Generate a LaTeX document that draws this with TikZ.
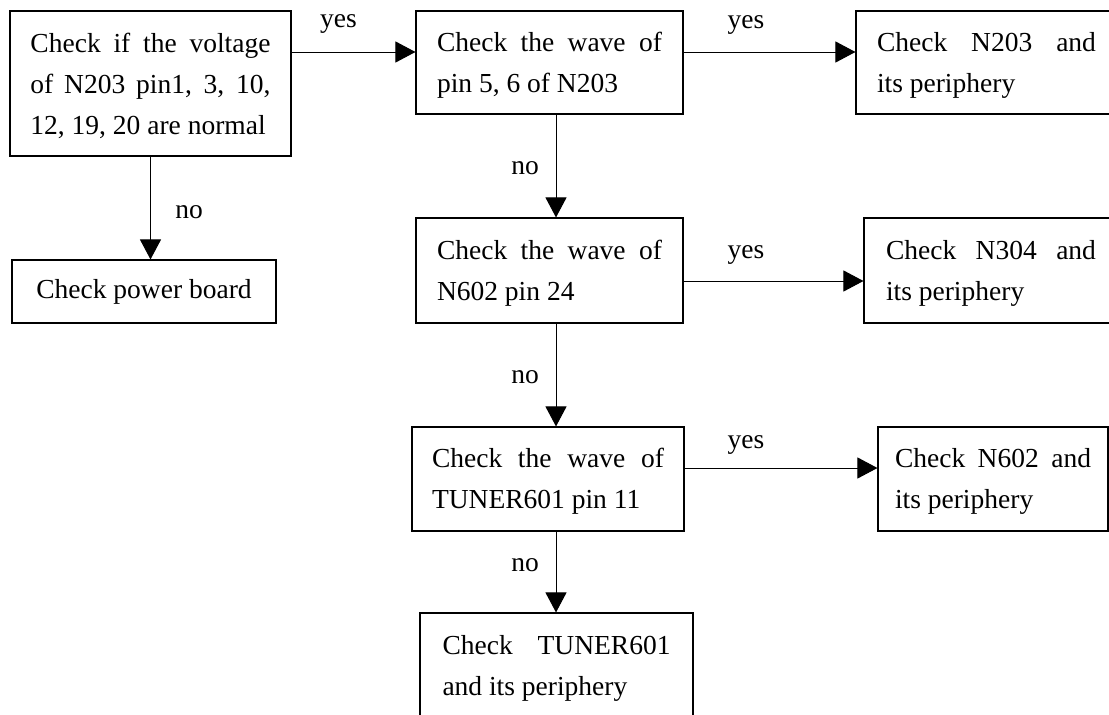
\documentclass[tikz,border=0pt]{standalone}
\usepackage{fontspec}
\setmainfont{Liberation Serif}
\usetikzlibrary{arrows.meta}
\newcommand{\tfix}{\rule{0pt}{24pt}}
\begin{document}
\begin{tikzpicture}[x=1pt,y=-1pt,
  box/.style={draw,line width=1.1pt,inner sep=0pt,align=justify,
    font={\parindent=0pt\fontsize{27.5}{41}\selectfont}},
  lbl/.style={anchor=base,inner sep=0pt,font=\fontsize{27.5}{41}\selectfont},
  arr/.style={line width=1pt,-{Triangle[length=20pt,width=21pt]}}]
\useasboundingbox (0,0) rectangle (1109,715);
\clip (0,0) rectangle (1109,715);
% boxes
\node[box,minimum width=281pt,minimum height=145pt,text width=240pt] (A) at (150.5,83.5)
  {\tfix Check if the voltage\linebreak of N203 pin1, 3, 10,\linebreak 12, 19, 20 are normal};
\node[box,minimum width=264pt,minimum height=63pt,align=center] (B) at (144,291.5)
  {Check power board};
\node[box,minimum width=267pt,minimum height=103pt,text width=225pt] (C) at (549.5,62.5)
  {\tfix Check the wave of\linebreak pin 5, 6 of N203};
\node[box,minimum width=261pt,minimum height=103pt,text width=219pt] (D) at (986.5,62.5)
  {\tfix Check N203 and\linebreak its periphery};
\node[box,minimum width=267pt,minimum height=105pt,text width=225pt] (E) at (549.5,270.5)
  {\tfix Check the wave of\linebreak N602 pin 24};
\node[box,minimum width=254pt,minimum height=105pt,text width=210pt] (F) at (991,270.5)
  {\tfix Check N304 and\linebreak its periphery};
\node[box,minimum width=272pt,minimum height=104pt,text width=232pt] (G) at (548,479)
  {\tfix Check the wave of\linebreak TUNER601 pin 11};
\node[box,minimum width=230pt,minimum height=104pt,text width=196pt] (H) at (993,479)
  {\tfix Check N602 and\linebreak its periphery};
\node[box,minimum width=273pt,minimum height=105pt,text width=228pt] (I) at (556.5,665.5)
  {\tfix Check TUNER601\linebreak and its periphery};
% connectors
\draw[arr] ([yshift=31.5pt]A.east) -- ([yshift=31.5pt]A.east -| C.west);
\draw[arr] ([yshift=10.5pt]C.east) -- ([yshift=10.5pt]C.east -| D.west);
\draw[arr] (A.south) -- (A.south |- B.north);
\draw[arr] ([xshift=6.5pt]C.south) -- ([xshift=6.5pt]C.south |- E.north);
\draw[arr] ([yshift=-10.5pt]E.east) -- ([yshift=-10.5pt]E.east -| F.west);
\draw[arr] ([xshift=6.5pt]E.south) -- ([xshift=6.5pt]E.south |- G.north);
\draw[arr] ([yshift=11pt]G.east) -- ([yshift=11pt]G.east -| H.west);
\draw[arr] ([xshift=8pt]G.south) -- ([xshift=8pt]G.south |- I.north);
% labels
\node[lbl] (y1) at (338.5,27) {yes};
\node[lbl] (n1) at (189,218) {no};
\node[lbl] (y2) at (746,28) {yes};
\node[lbl] (n2) at (525,174) {no};
\node[lbl] (y3) at (746,258) {yes};
\node[lbl] (n3) at (525,383) {no};
\node[lbl] (y4) at (746,448) {yes};
\node[lbl] (n4) at (525,571) {no};
\end{tikzpicture}
\end{document}
